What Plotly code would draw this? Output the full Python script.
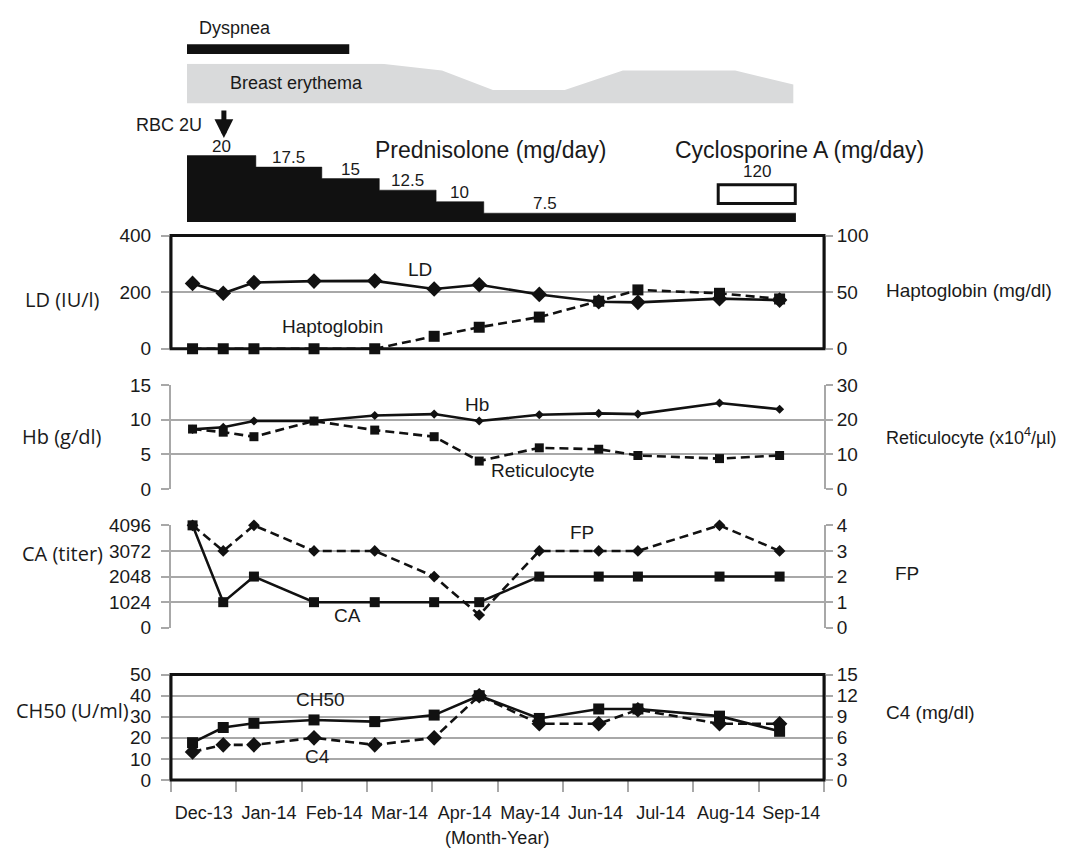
import plotly.graph_objects as go

# figure fills the 1075x863 window; the html body shifts it by 8px,
# so page pixel p is drawn at figure pixel p - 8
OX, OY = 8, 8
W, H = 1075, 863

# ---------------- data ----------------
months = ["Dec-13", "Jan-14", "Feb-14", "Mar-14", "Apr-14", "May-14",
          "Jun-14", "Jul-14", "Aug-14", "Sep-14"]
# sampling times in months since 1 Dec 2013
t = [0.33, 0.80, 1.27, 2.19, 3.12, 4.03, 4.72, 5.64, 6.55, 7.15, 8.40, 9.32]

ld = [231, 196, 234, 239, 240, 211, 226, 192, 166, 164, 177, 172]
hapto = [0, 0, 0, 0, 0, 11, 19, 28, 42, 52, 49, 44]
hb = [8.6, 8.9, 9.8, 9.8, 10.6, 10.8, 9.8, 10.7, 10.9, 10.8, 12.4, 11.5]
retic = [17.3, 16.4, 15.1, 19.6, 17.0, 15.1, 8.1, 11.9, 11.5, 9.7, 8.8, 9.7]
ca = [4096, 1024, 2048, 1024, 1024, 1024, 1024, 2048, 2048, 2048, 2048, 2048]
fp = [4, 3, 4, 3, 3, 2, 0.5, 3, 3, 3, 4, 3]
ch50 = [17.7, 24.9, 26.9, 28.5, 27.7, 30.8, 40, 29.2, 33.7, 33.7, 30.3, 23.1]
c4 = [4, 5, 5, 6, 5, 6, 12, 8, 8, 10, 8, 8]

dyspnea_period = [0.245, 2.73]
erythema_t = [0.245, 3.23, 4.15, 4.93, 6.03, 6.92, 8.64, 9.53]
erythema_level = [1, 1, 0.83, 0.34, 0.34, 0.83, 0.83, 0.48]
rbc_t = 0.81
pred_start = [0.245, 1.30, 2.31, 3.19, 4.06, 4.79]
pred_end = 9.57
pred_dose = [20, 17.5, 15, 12.5, 10, 7.5]
csa_period = [8.38, 9.56]
csa_dose = 120

# ---------------- style ----------------
FONT = "Liberation Sans, Arial, sans-serif"
FONT2 = "Open Sans, Liberation Sans, sans-serif"
GRAY = "#a8a8a8"
BLK = "#111111"
DASH = "9px,5px"


def fy(yp):
    return 1 - (yp - OY) / H


def fx(xp):
    return (xp - OX) / W


def ydom(top_px, bot_px):
    return [fy(bot_px), fy(top_px)]


fig = go.Figure()


def add(x, y, yaxis, dash, symbol, msize, width=2.6):
    fig.add_trace(go.Scatter(
        x=x, y=y, yaxis=yaxis, xaxis="x", mode="lines+markers",
        line=dict(color=BLK, width=width, dash=dash),
        marker=dict(symbol=symbol, size=msize, color=BLK),
        cliponaxis=False, showlegend=False, hoverinfo="skip"))


# erythema profile
fig.add_trace(go.Scatter(x=erythema_t, y=erythema_level, yaxis="y10", xaxis="x",
                         mode="lines", line=dict(width=0, color="#d9dadb"),
                         fill="tozeroy", fillcolor="#d9dadb", showlegend=False,
                         hoverinfo="skip"))
# prednisolone steps
fig.add_trace(go.Scatter(x=pred_start + [pred_end], y=pred_dose + [pred_dose[-1]],
                         yaxis="y9", xaxis="x", mode="lines", line_shape="hv",
                         line=dict(width=0.5, color=BLK), fill="tozeroy",
                         fillcolor=BLK, showlegend=False, hoverinfo="skip"))

# panel 1
add(t, ld, "y", "solid", "diamond", 12)
add(t, hapto, "y2", DASH, "square", 11)
# panel 2
add(t, hb, "y3", "solid", "diamond", 7)
add(t, retic, "y4", DASH, "square", 9)
# panel 3
add(t, ca, "y5", "solid", "square", 10)
add(t, fp, "y6", DASH, "diamond", 9)
# panel 4
add(t, ch50, "y7", "solid", "square", 11)
add(t, c4, "y8", DASH, "diamond", 12)

tickfont = dict(family=FONT, size=19, color="#1a1a1a")
common = dict(ticks="outside", tickwidth=2, tickcolor=GRAY,
              showline=True, linecolor=GRAY, linewidth=2, zeroline=False,
              tickfont=tickfont, fixedrange=True)
left = dict(common, ticklen=8, showgrid=True, gridcolor=GRAY, gridwidth=2,
            ticklabelstandoff=6)
right = dict(common, ticklen=7, showgrid=False, side="right", anchor="x")

fig.update_layout(
    width=W, height=H, margin=dict(l=0, r=0, t=0, b=0),
    paper_bgcolor="white", plot_bgcolor="white", showlegend=False,
    xaxis=dict(domain=[fx(171), fx(824)], range=[0, 10], anchor="y7",
               tickmode="array", tickvals=[i + 0.5 for i in range(10)],
               ticktext=months, ticks="", showgrid=False, zeroline=False,
               showline=False, tickfont=dict(tickfont, size=18),
               ticklabelstandoff=20, fixedrange=True,
               minor=dict(tick0=0, dtick=1, ticks="outside", ticklen=11,
                          tickwidth=2, tickcolor=GRAY, showgrid=False)),
    yaxis=dict(left, domain=ydom(231, 347), range=[0, 400], tickvals=[0, 200, 400]),
    yaxis2=dict(right, overlaying="y", range=[0, 100], tickvals=[0, 50, 100]),
    yaxis3=dict(left, domain=ydom(384, 491), range=[0, 15], tickvals=[0, 5, 10, 15]),
    yaxis4=dict(right, overlaying="y3", range=[0, 30], tickvals=[0, 10, 20, 30]),
    yaxis5=dict(left, domain=ydom(528, 633), range=[0, 4096],
                tickvals=[0, 1024, 2048, 3072, 4096]),
    yaxis6=dict(right, overlaying="y5", range=[0, 4], tickvals=[0, 1, 2, 3, 4]),
    yaxis7=dict(left, domain=ydom(681, 789), range=[0, 50],
                tickvals=[0, 10, 20, 30, 40, 50]),
    yaxis8=dict(right, overlaying="y7", range=[0, 15],
                tickvals=[0, 3, 6, 9, 12, 15]),
    yaxis9=dict(domain=ydom(140, 217), range=[5.6, 21.906], visible=False,
                anchor="x", fixedrange=True),
    yaxis10=dict(domain=ydom(55, 95.7), range=[0, 1], visible=False,
                 anchor="x", fixedrange=True),
)

shapes = []
# frames around panels 1 and 4
for ya in ["y", "y7"]:
    shapes.append(dict(type="rect", xref="x domain", yref=ya + " domain",
                       x0=0, x1=1, y0=0, y1=1, line=dict(color=BLK, width=3),
                       layer="above"))
# dyspnea bar
shapes.append(dict(type="rect", xref="x", yref="paper",
                   x0=dyspnea_period[0], x1=dyspnea_period[1],
                   y0=fy(45), y1=fy(35), fillcolor=BLK,
                   line=dict(width=0)))
# cyclosporine box
shapes.append(dict(type="rect", xref="x", yref="paper",
                   x0=csa_period[0], x1=csa_period[1],
                   y0=fy(198), y1=fy(179), fillcolor="white",
                   line=dict(color=BLK, width=3)))
fig.update_layout(shapes=shapes)

ann = []


def text(s, xp, yp, size=19, family=FONT, xanchor="center"):
    ann.append(dict(text=s, x=fx(xp), y=fy(yp), xref="paper", yref="paper",
                    xanchor=xanchor, yanchor="middle", showarrow=False,
                    font=dict(family=family, size=size, color="#1a1a1a")))


text("Dyspnea", 235, 18, 18)
text("Breast erythema", 296, 75, 18)
text("RBC 2U", 169, 118, 18)
text("Prednisolone (mg/day)", 490, 143, 23)
text("Cyclosporine A (mg/day)", 799, 143, 23)

# cyclosporine dose label
ann.append(dict(text=str(csa_dose), x=sum(csa_period) / 2, y=fy(177),
                xref="x", yref="paper", yanchor="bottom", showarrow=False,
                font=dict(family=FONT, size=17, color="#1a1a1a")))
# prednisolone dose labels
ends = pred_start[1:] + [pred_end]
for s, e, d in zip(pred_start, ends, pred_dose):
    lx = s + min((e - s) / 2, 0.93)
    ann.append(dict(text=f"{d:g}", x=lx, y=d, xref="x", yref="y9",
                    yanchor="bottom", showarrow=False, yshift=-2,
                    font=dict(family=FONT, size=17, color="#1a1a1a")))
# RBC arrow
ann.append(dict(text="", x=rbc_t, y=fy(131), xref="x", yref="paper",
                showarrow=True, ax=0, ay=-29, arrowhead=2, arrowsize=0.75,
                arrowwidth=5, arrowcolor=BLK))

# in-plot labels
text("LD", 420, 266)
text("Haptoglobin", 332, 324)
text("Hb", 477, 404)
text("Reticulocyte", 543, 472)
text("FP", 582, 535)
text("CA", 347, 620)
text("CH50", 320, 706)
text("C4", 317, 765)

# axis titles
text("LD (IU/l)", 62, 297, 20, FONT2)
text("Hb (g/dl)", 62, 437, 20, FONT2)
text("CA (titer)", 62, 557, 20, FONT2)
text("CH50 (U/ml)", 72, 718, 20, FONT2)
text("Haptoglobin (mg/dl)", 884, 287, 19, xanchor="left")
text("Reticulocyte (x10<sup>4</sup>/µl)", 884, 437, 18, xanchor="left")
text("FP", 893, 577, 19, xanchor="left")
text("C4 (mg/dl)", 884, 720, 19, xanchor="left")
text("(Month-Year)", 497, 848, 18)

fig.update_layout(annotations=ann)

fig.write_html("out.html")
